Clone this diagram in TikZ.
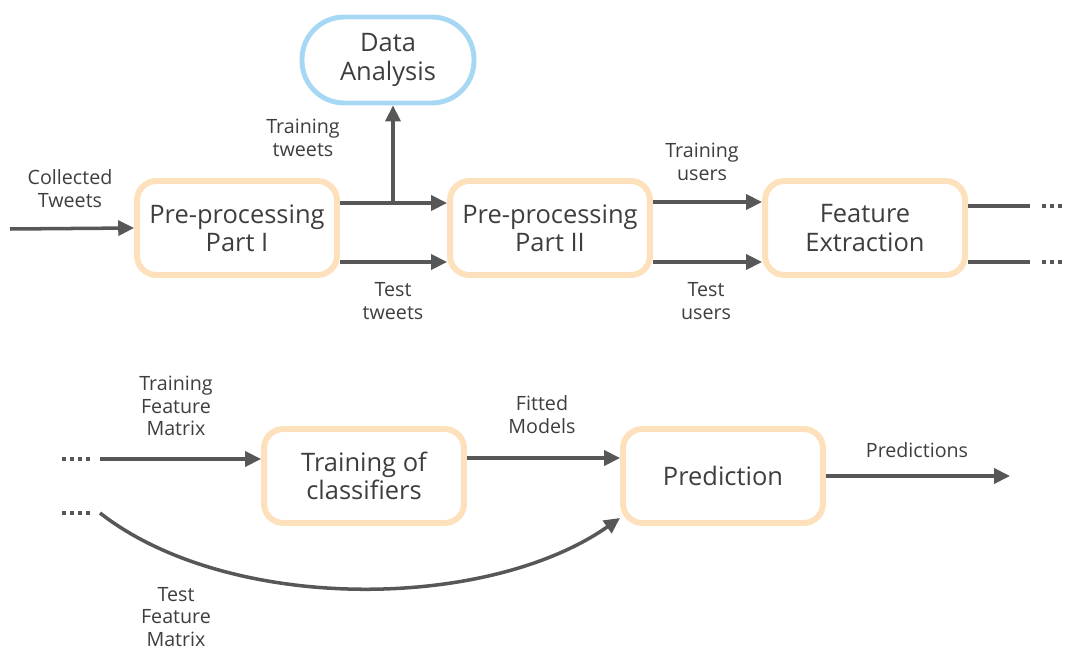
\documentclass[tikz,border=0pt]{standalone}
\usepackage{fontspec}
\setmainfont{Open Sans}
\usepackage{xcolor}
\usetikzlibrary{arrows.meta}

\definecolor{boxorange}{HTML}{FCE1BC}
\definecolor{boxblue}{HTML}{A6D8F4}
\definecolor{arrowgray}{HTML}{575757}
\definecolor{textgray}{HTML}{3E3E3E}

\begin{document}
\begin{tikzpicture}[x=0.02cm, y=0.02cm,
  stage/.style={rectangle, draw=boxorange, line width=3.4pt, rounded corners=11pt,
    minimum width=4cm, minimum height=1.88cm, align=center,
    font=\fontsize{14.5}{16}\selectfont, text=textgray},
  lbl/.style={align=center, font=\fontsize{11.2}{13}\selectfont, text=textgray},
  flow/.style={draw=arrowgray, line width=2pt, -{Triangle[length=9pt,width=8.5pt]}},
  link/.style={draw=arrowgray, line width=2pt},
  dots/.style={draw=arrowgray, line width=1.8pt, dash pattern=on 2pt off 2.6pt}]
\useasboundingbox (0,0) rectangle (1066,650);

% Upper row
\node[stage] (pp1) at (237,422) {Pre-processing\\Part I};
\node[stage] (pp2) at (550,422) {Pre-processing\\Part II};
\node[stage] (fe) at (865,422) {Feature\\Extraction};
\node[rectangle, draw=boxblue, line width=2.8pt, rounded corners=24pt,
  minimum width=3.44cm, minimum height=1.72cm, align=center,
  font=\fontsize{14.5}{16}\selectfont, text=textgray] (da) at (388,590) {Data\\Analysis};

\coordinate (src) at (10,421);
\coordinate (split) at (393,447);
\coordinate (out1) at (1030,444);
\coordinate (out2) at (1030,388);

\draw[flow] (src) -- (pp1.west);
\draw[flow] ([yshift=0.5cm]pp1.east) -- ([yshift=0.5cm]pp2.west);
\draw[flow] (split) -- (split |- da.south);
\draw[flow] ([yshift=-0.68cm]pp1.east) -- ([yshift=-0.68cm]pp2.west);
\draw[flow] ([yshift=0.52cm]pp2.east) -- ([yshift=0.52cm]fe.west);
\draw[flow] ([yshift=-0.68cm]pp2.east) -- ([yshift=-0.68cm]fe.west);
\draw[link] (fe.east |- out1) -- (out1);
\draw[link] (fe.east |- out2) -- (out2);
\draw[dots] (1042,444) -- (1066,444);
\draw[dots] (1042,388) -- (1066,388);

\node[lbl] (lcol) at (70,461) {Collected\\Tweets};
\node[lbl] (ltrt) at (303,512) {Training\\tweets};
\node[lbl] (ltet) at (393,349) {Test\\tweets};
\node[lbl] (ltru) at (702,488) {Training\\users};
\node[lbl] (lteu) at (706,349) {Test\\users};

% Lower row
\node[stage] (tc) at (364,174) {Training of\\classifiers};
\node[stage] (pr) at (723,174) {Prediction};

\coordinate (trin) at (100,191);
\coordinate (tein) at (100,137);

\draw[dots] (62,191) -- (90,191);
\draw[dots] (62,137) -- (90,137);
\draw[flow] (trin) -- (trin -| tc.west);
\draw[flow] ([yshift=0.36cm]tc.east) -- ([yshift=0.36cm]pr.west);
\draw[flow] (tein) to[out=-38, in=-145, looseness=0.8] ([yshift=-0.84cm]pr.west);
\draw[flow] (pr.east) -- (1010,174);

\node[lbl] (ltrf) at (176,244) {Training\\Feature\\Matrix};
\node[lbl] (ltef) at (176,33) {Test\\Feature\\Matrix};
\node[lbl] (lfit) at (542,235) {Fitted\\Models};
\node[lbl] (lpre) at (917,200) {Predictions};
\end{tikzpicture}
\end{document}
